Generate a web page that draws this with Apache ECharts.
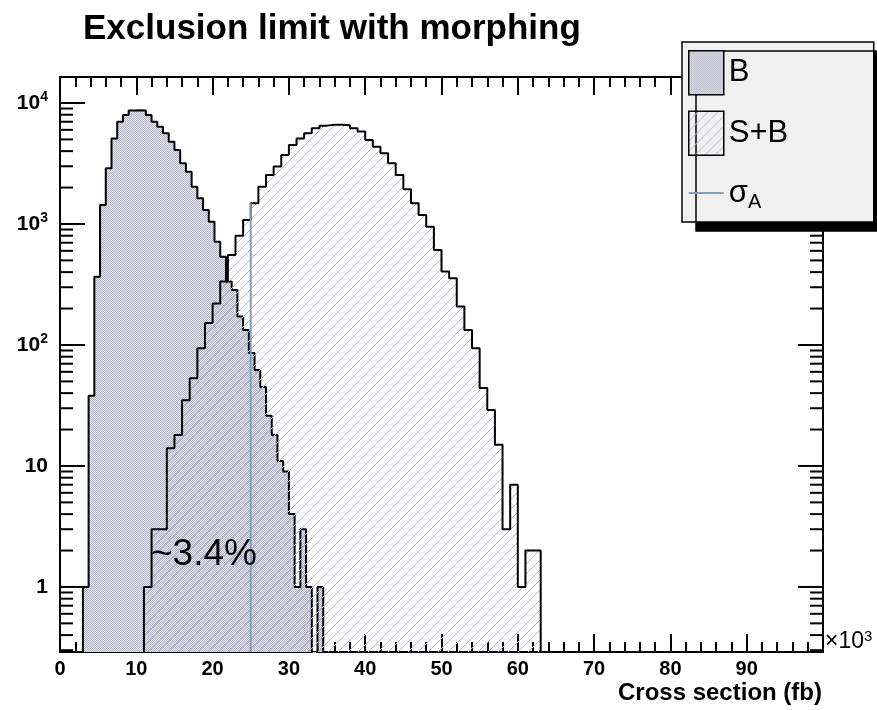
<!DOCTYPE html>
<html><head><meta charset="utf-8">
<script src="https://cdn.jsdelivr.net/npm/echarts@6/dist/echarts.min.js"></script>
<style>html,body{margin:0;padding:0;background:#fff}#c{width:877px;height:710px}</style>
</head><body><div id="c"></div>
<script>
// ---------------- data ----------------
const titleText = 'Exclusion limit with morphing';
const xAxisTitle = 'Cross section (fb)';
const xMin = 0, xMax = 100, xMajor = 10;
const yMin = 0.29, yMax = 16400;

// B : background-only pseudo-experiments (bin width 0.75 x10^3, first bin starts at 3.0)
const bStart = 3.0;
const bWidth = 0.75;
const bCounts = [1, 38, 367, 1437, 2885, 5100, 7000, 7960, 8650, 8700, 8650, 7960, 7000, 6370,
  5610, 4790, 4090, 3170, 2700, 2030, 1630, 1306, 1045, 714, 537, 334, 285, 172, 133, 86,
  62, 45, 26, 18, 11, 9, 4, 1, 3, 1, 0, 1];

// S+B : signal+background pseudo-experiments (bin width 1 x10^3, first bin starts at 11)
const sbStart = 11;
const sbWidth = 1;
const sbCounts = [1, 3, 3, 14, 18, 35, 53, 94, 152, 220, 334, 555, 800, 1080, 1483, 2030, 2540,
  2980, 3715, 4500, 5100, 5610, 6180, 6500, 6600, 6600, 6550, 6180, 5800, 4945, 4355, 3840,
  3175, 2540, 1935, 1483, 1185, 950, 610, 404, 356, 208, 133, 94, 44, 29, 15, 3, 7, 1, 2, 2];

const sigmaA = 25.0;
const annotation = '~3.4%';
const yDecades = [-1, 0, 1, 2, 3, 4];
const yMultipliers = [1, 2, 3, 4, 5, 6, 7, 8, 9];

// ---------------- helpers ----------------
const HELV = '"Liberation Sans", Arial, Helvetica, sans-serif';
const floorVal = yMin / 100;

function stepData(start, width, counts) {
  const pts = [[start, floorVal]];
  counts.forEach((c, i) => pts.push([start + i * width, c > 0 ? c : floorVal]));
  const end = start + counts.length * width;
  const last = counts[counts.length - 1];
  pts.push([end, last > 0 ? last : floorVal]);
  pts.push([end, floorVal]);
  return pts;
}

function makeDots() {
  const c = document.createElement('canvas'); c.width = 2; c.height = 2;
  const g = c.getContext('2d');
  g.fillStyle = '#e6e6ee'; g.fillRect(0, 0, 2, 2);
  g.fillStyle = '#b4b4ca'; g.fillRect(0, 0, 1, 1); g.fillRect(1, 1, 1, 1);
  return c;
}
function makeHatch() {
  const s = 10;
  const c = document.createElement('canvas'); c.width = s; c.height = s;
  const g = c.getContext('2d');
  g.strokeStyle = '#b6b6da'; g.lineWidth = 1;
  g.beginPath();
  g.moveTo(-1, s + 1); g.lineTo(s + 1, -1);
  g.moveTo(-1, 1); g.lineTo(1, -1);
  g.moveTo(s - 1, s + 1); g.lineTo(s + 1, s - 1);
  g.stroke();
  return c;
}
const dotPattern = { image: makeDots(), repeat: 'repeat' };
const hatchPattern = { image: makeHatch(), repeat: 'repeat' };

const yTicks = [];
yDecades.forEach(e => yMultipliers.forEach(m => {
  const v = m * Math.pow(10, e);
  if (v >= yMin && v <= yMax) yTicks.push([0, v, m === 1 ? 1 : 0]);
}));

const sigmaTop = sbCounts[Math.floor((sigmaA - sbStart) / sbWidth)];

// legend width
const mc = document.createElement('canvas').getContext('2d');
mc.font = '31px "Liberation Sans"';
const sbTextW = mc.measureText('S+B').width;
const legendPadRight = Math.max(10, 191 - 6 - 35 - 5 - sbTextW);

const chart = echarts.init(document.getElementById('c'), null, { renderer: 'canvas' });

const axisCommonX = {
  type: 'value', min: xMin, max: xMax, interval: xMajor,
  axisLine: { show: true, onZero: false, lineStyle: { color: '#000', width: 2 } },
  axisTick: { show: true, inside: true, length: 18, lineStyle: { color: '#000', width: 2 } },
  minorTick: { show: true, splitNumber: 5, length: 10, lineStyle: { color: '#000', width: 2 } },
  splitLine: { show: false }
};

chart.setOption({
  animation: false,
  backgroundColor: '#fff',
  title: {
    text: titleText, left: 83, top: 12, padding: 0,
    textStyle: { fontFamily: HELV, fontWeight: 'bold', fontSize: 35, color: '#000' }
  },
  grid: { left: 60, top: 77, width: 763, height: 575, containLabel: false },
  xAxis: [
    Object.assign({}, axisCommonX, {
      position: 'bottom',
      axisLabel: {
        color: '#000', fontFamily: HELV, fontWeight: 'bold', fontSize: 20, margin: 7,
        formatter: v => (v >= xMax ? '' : String(v))
      },
      name: xAxisTitle, nameLocation: 'end', nameGap: -1,
      nameTextStyle: {
        color: '#000', fontFamily: HELV, fontWeight: 'bold', fontSize: 24,
        align: 'right', verticalAlign: 'top', padding: [29, 0, 0, 0]
      }
    }),
    Object.assign({}, axisCommonX, { position: 'top', axisLabel: { show: false } })
  ],
  yAxis: [
    {
      type: 'log', logBase: 10, min: yMin, max: yMax, position: 'left',
      axisLine: { show: true, onZero: false, lineStyle: { color: '#000', width: 2 } },
      axisTick: { show: false }, splitLine: { show: false },
      axisLabel: {
        margin: 12, color: '#000', fontFamily: HELV, fontWeight: 'bold', fontSize: 21,
        formatter: function (v) {
          const e = Math.log10(v), r = Math.round(e);
          if (Math.abs(e - r) > 1e-6) return '';
          if (r === 0) return '1';
          if (r === 1) return '10';
          return '10{sup|' + r + '}';
        },
        rich: {
          sup: { fontFamily: HELV, fontWeight: 'bold', fontSize: 14, color: '#000', verticalAlign: 'bottom', padding: [0, 0, 11, 0] }
        }
      }
    },
    {
      type: 'log', logBase: 10, min: yMin, max: yMax, position: 'right',
      axisLine: { show: true, onZero: false, lineStyle: { color: '#000', width: 2 } },
      axisTick: { show: false }, splitLine: { show: false }, axisLabel: { show: false }
    }
  ],
  legend: {
    orient: 'vertical', left: 682, top: 42, z: 10,
    padding: [8, legendPadRight, 7, 6],
    itemGap: 15, itemWidth: 35, itemHeight: 44,
    backgroundColor: '#f0f0f0', borderColor: '#000', borderWidth: 1.5, borderRadius: 0,
    shadowColor: '#000', shadowBlur: 0, shadowOffsetX: 14, shadowOffsetY: 9,
    selectedMode: false,
    textStyle: {
      fontFamily: HELV, fontSize: 31, color: '#000',
      rich: {
        s: { fontFamily: HELV, fontSize: 31, color: '#000' },
        sub: { fontFamily: HELV, fontSize: 20, color: '#000', verticalAlign: 'top', padding: [19, 0, 0, 0] }
      }
    },
    formatter: name => (name === 'σA' ? '{s|σ}{sub|A}' : name),
    data: [
      { name: 'B', icon: 'rect', itemStyle: { color: dotPattern, borderColor: '#000', borderWidth: 1.5 } },
      { name: 'S+B', icon: 'rect', itemStyle: { color: hatchPattern, borderColor: '#000', borderWidth: 1.5 } },
      { name: 'σA', icon: 'path://M0,0 M35,44 M0,21 L35,21 L35,23 L0,23 Z',
        itemStyle: { color: '#7fa1bd', borderWidth: 0 } }
    ]
  },
  graphic: [
    { type: 'text', left: 151, top: 536, z: 50,
      style: { text: annotation, font: '37px "Liberation Sans", Arial, sans-serif', fill: '#000' } },
    { type: 'text', left: 825, top: 629, z: 50,
      style: {
        text: '×10{sup|3}', font: '23px "Liberation Sans"', fill: '#000',
        rich: { sup: { font: '15px "Liberation Sans"', fill: '#000', verticalAlign: 'bottom', padding: [0, 0, 11, 0] } }
      } }
  ],
  series: [
    {
      name: 'B', type: 'line', step: 'end', symbol: 'none', z: 2,
      data: stepData(bStart, bWidth, bCounts),
      lineStyle: { color: '#000', width: 2 },
      itemStyle: { color: '#000' },
      areaStyle: { color: dotPattern, opacity: 1, origin: 'start' }
    },
    {
      name: 'S+B', type: 'line', step: 'end', symbol: 'none', z: 3,
      data: stepData(sbStart, sbWidth, sbCounts),
      lineStyle: { color: '#000', width: 2 },
      itemStyle: { color: '#000' },
      areaStyle: { color: hatchPattern, opacity: 1, origin: 'start' }
    },
    {
      name: 'σA', type: 'line', symbol: 'none', z: 4,
      data: [[sigmaA, yMin], [sigmaA, sigmaTop]],
      lineStyle: { color: '#7fa1bd', width: 2 },
      itemStyle: { color: '#7fa1bd' }
    },
    {
      name: 'yticks', type: 'custom', silent: true, z: 3, clip: false,
      xAxisIndex: 0, yAxisIndex: 0,
      data: yTicks,
      renderItem: function (params, api) {
        const v = api.value(1);
        const major = api.value(2) === 1;
        const pl = api.coord([xMin, v]);
        const pr = api.coord([xMax, v]);
        const len = major ? 25 : 13;
        const st = { stroke: '#000', lineWidth: 2 };
        return {
          type: 'group', children: [
            { type: 'line', shape: { x1: pl[0], y1: pl[1], x2: pl[0] + len, y2: pl[1] }, style: st },
            { type: 'line', shape: { x1: pr[0], y1: pr[1], x2: pr[0] - len, y2: pr[1] }, style: st }
          ]
        };
      }
    }
  ]
});
</script>
</body></html>
